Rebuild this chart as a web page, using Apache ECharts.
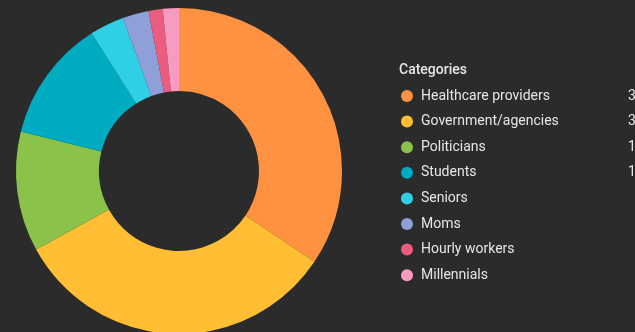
<!DOCTYPE html>
<html><head><meta charset="utf-8">
<script src="https://cdn.jsdelivr.net/npm/echarts@6/dist/echarts.min.js"></script>
<style>html,body{margin:0;padding:0;background:#2b2b2b;}#c{width:635px;height:332px;}</style>
</head><body><div id="c"></div>
<script>
const categories = ["Healthcare providers","Government/agencies","Politicians","Students","Seniors","Moms","Hourly workers","Millennials"];
const values = [34.4, 32.6, 11.9, 12.1, 3.4, 2.6, 1.4, 1.6];
const colors = ["#ff9240","#ffbe33","#8bc34a","#00acc1","#2fd0e6","#8fa0d9","#ea5c80","#f79bc0"];
const legendTitle = "Categories";

const total = values.reduce((a,b)=>a+b,0);
const chart = echarts.init(document.getElementById('c'), null, {renderer:'canvas'});
chart.setOption({
  backgroundColor: '#2b2b2b',
  animation: false,
  color: colors,
  title: {
    text: legendTitle, left: 399, top: 62, padding: 0,
    textStyle: {color:'#e6e6e6', fontSize: 14, fontWeight: 500, fontFamily: 'Roboto', lineHeight: 16}
  },
  legend: {
    orient: 'vertical', left: 401, top: 89, padding: 0,
    icon: 'circle', itemWidth: 12, itemHeight: 12, itemGap: 11.6,
    data: categories,
    formatter: function(name){
      const i = categories.indexOf(name);
      const pct = Math.round(values[i]/total*100) + '%';
      return '{n|' + name + '}{v|' + pct + '}';
    },
    textStyle: {
      color:'#e6e6e6', fontSize: 14, fontFamily: 'Roboto', lineHeight: 14,
      rich: {
        n: {width: 193, padding:[0,0,0,3], fontSize: 14, lineHeight: 14, color:'#e6e6e6', fontFamily:'Roboto'},
        v: {width: 40, align:'right', fontSize: 14, lineHeight: 14, color:'#e6e6e6', fontFamily:'Roboto'}
      }
    }
  },
  series: [{
    type: 'pie',
    center: [179, 171],
    radius: [80, 163],
    startAngle: 90,
    clockwise: true,
    label: {show: false},
    labelLine: {show: false},
    emphasis: {disabled: true},
    itemStyle: {borderWidth: 0},
    data: categories.map((c,i)=>({name:c, value: values[i]}))
  }]
});
</script></body></html>
